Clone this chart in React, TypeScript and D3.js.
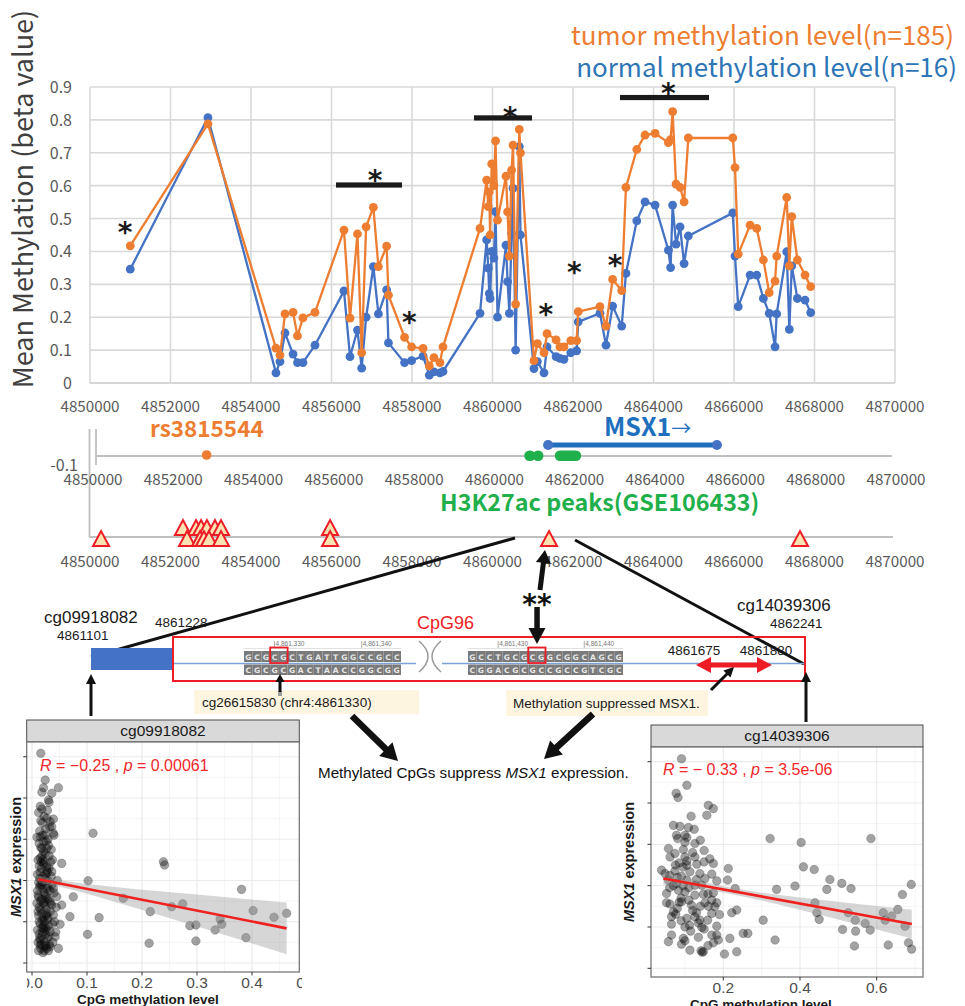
import React, { useEffect } from 'react';
import * as d3 from 'd3';

// ---------------- Top chart data ----------------
const positions = [4851000, 4852930, 4854620, 4854720, 4854845, 4855045, 4855155, 4855290, 4855590, 4856310,
  4856460, 4856645, 4856750, 4856860, 4857040, 4857165, 4857370, 4857415, 4857815, 4857990,
  4858275, 4858430, 4858545, 4858695, 4858770, 4859690, 4859855, 4859895, 4859920, 4859940,
  4859980, 4860035, 4860075, 4860125, 4860335, 4860375, 4860420, 4860475, 4860510, 4860575,
  4860665, 4860695, 4861030, 4861115, 4861280, 4861355, 4861580, 4861675, 4861775, 4861945,
  4862090, 4862130, 4862670, 4862820, 4862985, 4863210, 4863315, 4863585, 4863790, 4864040,
  4864370, 4864425, 4864475, 4864560, 4864660, 4864760, 4864865, 4865970, 4866025, 4866105,
  4866400, 4866565, 4866730, 4866875, 4867020, 4867060, 4867310, 4867375, 4867435, 4867575,
  4867765, 4867905];
const tumor = [0.417, 0.788, 0.106, 0.085, 0.21, 0.215, 0.143, 0.198, 0.215, 0.465,
  0.197, 0.453, 0.092, 0.475, 0.534, 0.354, 0.416, 0.267, 0.139, 0.11,
  0.105, 0.052, 0.077, 0.062, 0.11, 0.47, 0.617, 0.536, 0.581, 0.45,
  0.666, 0.6, 0.736, 0.495, 0.629, 0.52, 0.386, 0.647, 0.723, 0.24,
  0.771, 0.7, 0.068, 0.12, 0.092, 0.15, 0.131, 0.11, 0.11, 0.129,
  0.129, 0.217, 0.232, 0.173, 0.315, 0.281, 0.595, 0.71, 0.754, 0.759,
  0.731, 0.74, 0.825, 0.605, 0.595, 0.551, 0.745, 0.745, 0.655, 0.392,
  0.48, 0.47, 0.374, 0.275, 0.31, 0.386, 0.564, 0.356, 0.506, 0.374,
  0.328, 0.293];
const normal = [0.346, 0.807, 0.031, 0.065, 0.152, 0.088, 0.062, 0.062, 0.115, 0.28,
  0.08, 0.161, 0.045, 0.2, 0.354, 0.21, 0.283, 0.122, 0.062, 0.068,
  0.082, 0.024, 0.034, 0.031, 0.035, 0.212, 0.435, 0.349, 0.272, 0.257,
  0.4, 0.38, 0.521, 0.2, 0.419, 0.308, 0.212, 0.455, 0.592, 0.1,
  0.719, 0.45, 0.044, 0.065, 0.031, 0.11, 0.08, 0.075, 0.072, 0.092,
  0.098, 0.186, 0.212, 0.115, 0.234, 0.173, 0.333, 0.493, 0.551, 0.541,
  0.404, 0.351, 0.541, 0.422, 0.475, 0.363, 0.447, 0.517, 0.386, 0.232,
  0.328, 0.328, 0.257, 0.212, 0.11, 0.21, 0.399, 0.163, 0.356, 0.257,
  0.252, 0.214];
const xTickValues = [4850000, 4852000, 4854000, 4856000, 4858000, 4860000, 4862000, 4864000, 4866000, 4868000, 4870000];
const yTickValues = [0, 0.1, 0.2, 0.3, 0.4, 0.5, 0.6, 0.7, 0.8, 0.9];
const yTickLabels = ['0', '0.1', '0.2', '0.3', '0.4', '0.5', '0.6', '0.7', '0.8', '0.9'];
const sigBars = [
  { start: 4856112, end: 4857752, level: 0.602 },
  { start: 4859540, end: 4860981, level: 0.806 },
  { start: 4863168, end: 4865379, level: 0.868 },
];
const asterisks = [
  { pos: 4850870, level: 0.475 }, { pos: 4857081, level: 0.632 }, { pos: 4860435, level: 0.825 },
  { pos: 4864368, level: 0.896 }, { pos: 4857933, level: 0.2 }, { pos: 4861322, level: 0.224 },
  { pos: 4862033, level: 0.352 }, { pos: 4863044, level: 0.374 },
];

// ---------------- Tracks ----------------
const snpPos = 4852830;
const genePos = [4861335, 4865540];
const h3k27acPeaks = [[4860740, 4861020], [4860950, 4861220], [4861500, 4862160]];
const triUpper = [4852310, 4852635, 4852760, 4852905, 4853105, 4853255, 4855965];
const triLower = [4850275, 4852410, 4852735, 4852830, 4852955, 4853255, 4855965, 4861405, 4867640];

// ---------------- Schematic ----------------
const schemBreaks = [4861101, 4861228, 4861327, 4861345, 4861427, 4861445, 4861675, 4861880, 4862241];
const seq1Top = 'GCGCGCTGATTGGCCGCC';
const seq1Bottom = 'CGCGCGACTAACCGGCGG';
const seq1Start = 4861327;
const seq2Top = 'GCCTGCGCGGCGGCAGCG';
const seq2Bottom = 'CGGACGCGCCGCCGTCGC';
const seq2Start = 4861427;
const markedCpG = [4861330, 4861434];
const rulerMarks = [4861330, 4861340, 4861430, 4861440];
const suppressRegion = [4861675, 4861880];

// ---------------- Scatter data ----------------
const leftPoints = [
  [0.016, 12.17], [0.024, 10.87], [0.021, 10.5], [0.048, 10.5], [0.018, 10.28], [0.036, 10.23], [0.03, 9.9], [0.031, 9.79],
  [0.018, 9.47], [0.027, 9.02], [0.033, 8.85], [0.039, 8.98], [0.036, 8.61], [0.111, 8.29], [0.039, 8.29], [0.024, 8.21],
  [0.015, 8.12], [0.021, 7.88], [0.018, 7.56], [0.027, 7.56], [0.015, 7.08], [0.054, 6.83], [0.239, 6.91], [0.241, 6.75],
  [0.027, 6.67], [0.036, 6.43], [0.102, 5.99], [0.381, 5.57], [0.015, 5.78], [0.039, 5.62], [0.075, 5.21], [0.045, 5.21],
  [0.166, 5.14], [0.036, 4.81], [0.054, 4.81], [0.254, 4.73], [0.274, 4.87], [0.215, 4.49], [0.039, 4.33], [0.069, 4.25],
  [0.122, 4.2], [0.402, 4.54], [0.44, 4.22], [0.463, 4.41], [0.051, 3.88], [0.287, 3.81], [0.298, 3.84], [0.342, 4.13],
  [0.345, 3.88], [0.333, 3.6], [0.101, 3.39], [0.021, 3.68], [0.033, 3.52], [0.042, 3.27], [0.389, 3.23], [0.213, 2.96],
  [0.298, 3.07], [0.048, 2.71], [0.024, 2.87], [0.033, 2.79], [0.015, 2.87],
  [0.012, 9.3], [0.019, 8.8], [0.025, 8.5], [0.029, 8.0], [0.013, 7.8], [0.021, 7.4], [0.031, 7.2], [0.011, 7.0],
  [0.022, 6.9], [0.017, 6.6], [0.028, 6.4], [0.010, 6.3], [0.024, 6.1], [0.019, 5.9], [0.014, 5.7], [0.027, 5.6],
  [0.022, 5.4], [0.011, 5.3], [0.017, 5.1], [0.032, 5.0], [0.021, 4.9], [0.013, 4.7], [0.026, 4.6], [0.018, 4.4],
  [0.012, 4.3], [0.029, 4.2], [0.022, 4.0], [0.015, 3.9], [0.025, 3.7], [0.010, 3.6], [0.019, 3.5], [0.031, 3.3],
  [0.014, 3.2], [0.023, 3.0], [0.017, 2.9], [0.027, 2.7], [0.012, 2.6], [0.020, 2.5], [0.034, 6.9], [0.036, 5.8],
  [0.033, 4.5], [0.037, 3.9], [0.009, 8.1], [0.016, 7.6], [0.024, 7.3], [0.029, 6.0], [0.010, 5.5], [0.016, 5.0],
  [0.023, 4.8], [0.028, 4.1], [0.013, 3.4], [0.020, 6.2], [0.026, 5.2], [0.011, 4.5], [0.018, 3.7], [0.024, 2.8],
  [0.035, 7.5], [0.032, 8.6], [0.015, 9.6], [0.022, 9.1], [0.040, 5.4], [0.041, 4.0], [0.038, 3.0], [0.030, 2.6],
  [0.009, 4.9], [0.019, 8.2], [0.027, 6.5], [0.013, 6.7], [0.021, 3.8], [0.016, 2.7], [0.030, 7.7], [0.018, 7.2],
  [0.026, 4.3], [0.014, 6.1], [0.033, 5.5], [0.020, 5.6], [0.028, 3.2], [0.012, 5.9],
  [0.014, 8.4], [0.026, 7.9], [0.020, 7.0], [0.031, 6.6], [0.015, 6.4], [0.025, 6.3], [0.018, 5.8], [0.029, 5.7],
  [0.012, 5.2], [0.024, 5.3], [0.034, 4.9], [0.016, 4.6], [0.027, 4.4], [0.021, 4.2], [0.013, 4.0], [0.030, 3.8],
  [0.018, 3.3], [0.025, 3.4], [0.011, 3.0], [0.032, 2.9], [0.022, 2.6], [0.016, 8.9], [0.028, 9.4], [0.021, 6.8],
  [0.017, 6.9], [0.023, 5.0], [0.019, 4.1], [0.026, 3.6], [0.015, 3.1], [0.029, 5.1], [0.035, 6.2], [0.037, 7.0],
  [0.044, 4.7], [0.046, 6.0], [0.043, 3.5], [0.040, 8.2],
];
const leftReg = [[0.0115, 6.06], [0.463, 3.68]];
const leftBandX = [0.0117, 0.0415, 0.091, 0.19, 0.29, 0.389, 0.463];
const leftBandLo = [5.89, 5.76, 5.43, 4.66, 3.85, 3.04, 2.43];
const leftBandHi = [6.23, 6.05, 5.85, 5.58, 5.35, 5.10, 4.93];

const rightPoints = [
  [0.091, 12.14], [0.105, 10.86], [0.077, 10.47], [0.082, 10.27], [0.161, 9.89], [0.174, 9.73], [0.157, 9.41], [0.116, 9.36],
  [0.07, 8.92], [0.087, 8.87], [0.109, 8.81], [0.124, 8.73], [0.1, 8.44], [0.105, 8.33], [0.078, 8.44], [0.081, 8.28],
  [0.322, 8.28], [0.403, 8.09], [0.585, 8.28], [0.057, 7.8], [0.074, 7.56], [0.061, 7.39], [0.126, 8.04], [0.096, 7.75],
  [0.126, 7.39], [0.105, 6.99], [0.1, 7.39], [0.15, 7.15], [0.131, 7.04], [0.174, 7.07], [0.213, 6.83], [0.437, 6.78],
  [0.409, 6.91], [0.039, 6.75], [0.048, 6.59], [0.074, 6.71], [0.091, 6.46], [0.113, 6.67], [0.139, 6.59], [0.152, 6.35],
  [0.17, 6.56], [0.057, 6.27], [0.078, 6.11], [0.105, 6.27], [0.126, 6.02], [0.144, 6.02], [0.183, 6.23], [0.211, 6.27],
  [0.339, 5.82], [0.387, 5.98], [0.47, 5.82], [0.478, 6.3], [0.509, 6.11], [0.533, 5.86], [0.69, 6.06], [0.052, 5.62],
  [0.083, 5.78], [0.1, 5.7], [0.126, 5.54], [0.148, 5.59], [0.174, 5.65], [0.231, 5.86], [0.052, 5.17], [0.061, 5.11],
  [0.091, 5.22], [0.117, 5.06], [0.152, 5.17], [0.161, 5.01], [0.183, 5.17], [0.439, 5.17], [0.444, 4.69], [0.45, 4.37],
  [0.526, 4.69], [0.544, 4.33], [0.57, 4.17], [0.617, 4.69], [0.622, 4.33], [0.639, 4.53], [0.655, 4.85], [0.667, 5.57],
  [0.07, 4.73], [0.076, 4.62], [0.105, 4.42], [0.126, 4.49], [0.139, 4.33], [0.159, 4.33], [0.17, 4.66], [0.178, 4.98],
  [0.222, 4.69], [0.235, 4.82], [0.304, 4.33], [0.511, 3.88], [0.545, 3.8], [0.583, 3.85], [0.674, 4.04], [0.065, 4.14],
  [0.112, 4.09], [0.144, 3.98], [0.183, 4.04], [0.17, 3.61], [0.183, 3.61], [0.252, 3.69], [0.264, 3.69], [0.065, 3.61],
  [0.096, 3.45], [0.1, 3.33], [0.057, 3.29], [0.174, 3.24], [0.187, 3.37], [0.217, 3.45], [0.335, 3.37], [0.091, 3.17],
  [0.113, 2.88], [0.142, 2.85], [0.148, 2.8], [0.203, 2.69], [0.235, 2.8], [0.542, 3.08], [0.63, 3.13], [0.683, 3.24],
  [0.691, 2.93], [0.085, 7.1], [0.095, 6.9], [0.12, 7.6], [0.09, 5.4], [0.11, 5.3], [0.14, 5.0], [0.08, 4.9],
  [0.1, 4.0], [0.13, 4.7], [0.16, 5.6], [0.07, 6.0], [0.15, 7.7], [0.165, 7.3], [0.1, 8.1], [0.06, 5.9],
  [0.15, 3.9], [0.135, 3.5], [0.16, 3.1], [0.145, 2.78],
  [0.08, 6.4], [0.095, 6.0], [0.11, 5.9], [0.13, 6.3], [0.085, 5.2], [0.12, 4.8], [0.065, 4.5], [0.09, 4.3],
  [0.115, 3.8], [0.135, 4.2], [0.17, 5.3], [0.19, 4.6], [0.06, 6.5], [0.105, 7.2], [0.14, 8.2], [0.075, 7.0],
];
const rightReg = [[0.0435, 6.35], [0.6915, 4.14]];
const rightBandX = [0.0435, 0.1, 0.2, 0.3, 0.4, 0.5, 0.6, 0.6915];
const rightBandLo = [6.05, 5.93, 5.67, 5.28, 4.83, 4.36, 3.88, 3.44];
const rightBandHi = [6.65, 6.39, 5.97, 5.66, 5.43, 5.22, 5.02, 4.84];

const FJP = "'Noto Sans CJK JP', 'Noto Sans', sans-serif";
const FS = "'Liberation Sans', Arial, sans-serif";
const FD = "'DejaVu Sans', sans-serif";
const ORANGE = '#ED7D31';
const BLUE = '#4472C4';
const GRID = '#D9D9D9';
const TXT = '#595959';
const RED = '#EE1C25';

function arrowPath(x1: number, y1: number, x2: number, y2: number, w: number, hl: number, hw: number, both = false) {
  const dx = x2 - x1, dy = y2 - y1, L = Math.hypot(dx, dy);
  const ux = dx / L, uy = dy / L, px = -uy, py = ux;
  const bx = x2 - ux * hl, by = y2 - uy * hl;
  const ax = both ? x1 + ux * hl : x1, ay = both ? y1 + uy * hl : y1;
  const pts: number[][] = [];
  if (both) {
    pts.push([x1, y1], [ax - px * hw / 2, ay - py * hw / 2], [ax - px * w / 2, ay - py * w / 2]);
  } else {
    pts.push([x1 - px * w / 2, y1 - py * w / 2]);
  }
  pts.push([bx - px * w / 2, by - py * w / 2], [bx - px * hw / 2, by - py * hw / 2], [x2, y2],
    [bx + px * hw / 2, by + py * hw / 2], [bx + px * w / 2, by + py * w / 2]);
  if (both) {
    pts.push([ax + px * w / 2, ay + py * w / 2], [ax + px * hw / 2, ay + py * hw / 2]);
  } else {
    pts.push([x1 + px * w / 2, y1 + py * w / 2]);
  }
  return 'M' + pts.map(p => p[0].toFixed(1) + ',' + p[1].toFixed(1)).join('L') + 'Z';
}

type ScatterCfg = {
  id: string; title: string; px0: number; px1: number; py0: number; py1: number; stripTop: number;
  xDomain: number[]; xRange: number[]; yDomain: number[]; yRange: number[];
  xTicks: number[]; xMinor: number[]; yTicks: number[]; yMinor: number[];
  points: number[][]; reg: number[][]; bandX: number[]; bandLo: number[]; bandHi: number[];
  stat: string[]; statX: number; statY: number; clipX0: number; clipX1: number;
  yTitleX: number; xTitleX: number; xTitleY: number; tickY: number;
};

function Scatter({ c }: { c: ScatterCfg }) {
  const x = d3.scaleLinear().domain(c.xDomain).range(c.xRange);
  const y = d3.scaleLinear().domain(c.yDomain).range(c.yRange);
  const area = d3.area<number>().x((d, i) => x(c.bandX[i])).y0((d, i) => y(c.bandLo[i])).y1((d) => y(d));
  const inX = (v: number) => x(v) >= c.px0 && x(v) <= c.px1;
  const inY = (v: number) => y(v) >= c.py0 && y(v) <= c.py1;
  const fmt = (v: number) => v.toFixed(1);
  return (
    <g>
      <defs>
        <clipPath id={c.id + 'lab'}><rect x={c.clipX0} y={c.py1} width={c.clipX1 - c.clipX0} height={40} /></clipPath>
        <clipPath id={c.id + 'pan'}><rect x={c.px0} y={c.py0} width={c.px1 - c.px0} height={c.py1 - c.py0} /></clipPath>
      </defs>
      <rect x={c.px0} y={c.stripTop} width={c.px1 - c.px0} height={c.py0 - c.stripTop} fill="#D9D9D9" stroke="#4d4d4d" strokeWidth={1} />
      <text x={(c.px0 + c.px1) / 2} y={c.py0 - 6} textAnchor="middle" fontFamily={FS} fontSize={15.5} fill="#1a1a1a">{c.title}</text>
      <rect x={c.px0} y={c.py0} width={c.px1 - c.px0} height={c.py1 - c.py0} fill="#fff" />
      <g clipPath={`url(#${c.id}pan)`}>
        {c.xMinor.filter(inX).map(v => <line key={'xm' + v} x1={x(v)} x2={x(v)} y1={c.py0} y2={c.py1} stroke="#F2F2F2" strokeWidth={0.8} />)}
        {c.yMinor.filter(inY).map(v => <line key={'ym' + v} x1={c.px0} x2={c.px1} y1={y(v)} y2={y(v)} stroke="#F2F2F2" strokeWidth={0.8} />)}
        {c.xTicks.filter(inX).map(v => <line key={'xg' + v} x1={x(v)} x2={x(v)} y1={c.py0} y2={c.py1} stroke="#EBEBEB" strokeWidth={1.2} />)}
        {c.yTicks.filter(inY).map(v => <line key={'yg' + v} x1={c.px0} x2={c.px1} y1={y(v)} y2={y(v)} stroke="#EBEBEB" strokeWidth={1.2} />)}
        {c.points.map((p, i) => <circle key={i} cx={x(p[0])} cy={y(p[1])} r={4.3} fill="#000" fillOpacity={0.36} stroke="#222" strokeOpacity={0.4} strokeWidth={0.6} />)}
        <path d={area(c.bandHi) || ''} fill="#999" fillOpacity={0.4} />
        <line x1={x(c.reg[0][0])} y1={y(c.reg[0][1])} x2={x(c.reg[1][0])} y2={y(c.reg[1][1])} stroke="#F0201F" strokeWidth={2.6} />
      </g>
      <rect x={c.px0} y={c.py0} width={c.px1 - c.px0} height={c.py1 - c.py0} fill="none" stroke="#6b6b6b" strokeWidth={1.2} />
      {c.yTicks.filter(inY).map(v => <line key={'yt' + v} x1={c.px0 - 3.5} x2={c.px0} y1={y(v)} y2={y(v)} stroke="#333" strokeWidth={1} />)}
      {c.xTicks.filter(inX).map(v => <line key={'xt' + v} x1={x(v)} x2={x(v)} y1={c.py1} y2={c.py1 + 3.5} stroke="#333" strokeWidth={1} />)}
      <g clipPath={`url(#${c.id}lab)`}>
        {c.xTicks.map(v => <text key={'xl' + v} x={x(v)} y={c.tickY} textAnchor="middle" fontFamily={FS} fontSize={15.5} fill="#4D4D4D">{fmt(v)}</text>)}
      </g>
      <text x={c.statX} y={c.statY} fontFamily={FS} fontSize={16} fill="#F2262B" style={{ whiteSpace: 'pre' }}>
        <tspan fontStyle="italic">R</tspan><tspan>{c.stat[0]}</tspan><tspan fontStyle="italic">p</tspan><tspan>{c.stat[1]}</tspan>
      </text>
      <text x={c.xTitleX} y={c.xTitleY} fontFamily={FS} fontSize={13.5} fontWeight="bold" fill="#1a1a1a">CpG methylation level</text>
      <text transform={`translate(${c.yTitleX},${(c.py0 + c.py1) / 2}) rotate(-90)`} textAnchor="middle" fontFamily={FS} fontSize={14.5} fontWeight="bold" fill="#1a1a1a">
        <tspan fontStyle="italic">MSX1</tspan><tspan> expression</tspan>
      </text>
    </g>
  );
}

export default function App() {
  useEffect(() => { document.body.style.margin = '0'; }, []);
  const xTop = d3.scaleLinear().domain([4850000, 4870000]).range([90, 895]);
  const yTop = d3.scaleLinear().domain([0, 0.9]).range([383, 87]);
  const xMid = d3.scaleLinear().domain([4850000, 4870000]).range([93, 896]);
  const xZ = d3.scaleLinear().domain(schemBreaks).range([91, 173, 244, 401, 468, 623, 696, 772, 805]);
  const lineGen = (vals: number[]) => d3.line<number>().x((d, i) => xTop(positions[i])).y(d => yTop(d))(vals) || '';

  const tri = (px: number, base: number) => `M${px - 8},${base}L${px + 8},${base}L${px},${base - 15}Z`;

  const seqCells = (top: string, bottom: string, start: number) => {
    const out: any[] = [];
    for (let i = 0; i < top.length; i++) {
      const x0 = xZ(start + i), x1 = xZ(start + i + 1), cx = (x0 + x1) / 2;
      out.push(<rect key={'t' + start + i} x={x0} y={651} width={x1 - x0} height={11} fill="#7a7a7a" />);
      out.push(<rect key={'b' + start + i} x={x0} y={664.5} width={x1 - x0} height={10.5} fill="#7a7a7a" />);
      out.push(<text key={'tt' + start + i} x={cx} y={659.6} textAnchor="middle" fontFamily={FD} fontSize={7.5} fontWeight="bold" fill="#e8e8e8">{top[i]}</text>);
      out.push(<text key={'bt' + start + i} x={cx} y={672.8} textAnchor="middle" fontFamily={FD} fontSize={7.5} fontWeight="bold" fill="#e8e8e8">{bottom[i]}</text>);
    }
    return out;
  };

  const leftCfg: ScatterCfg = {
    id: 'sl', title: 'cg09918082', px0: 26.7, px1: 299.3, py0: 742, py1: 972, stripTop: 720,
    xDomain: [0, 0.5], xRange: [32, 307], yDomain: [2, 10], yRange: [963, 798],
    xTicks: [0, 0.1, 0.2, 0.3, 0.4, 0.5], xMinor: [0.05, 0.15, 0.25, 0.35, 0.45],
    yTicks: [2, 4, 6, 8, 10, 12], yMinor: [1, 3, 5, 7, 9, 11],
    points: leftPoints, reg: leftReg, bandX: leftBandX, bandLo: leftBandLo, bandHi: leftBandHi,
    stat: [' = \u22120.25 , ', ' = 0.00061'], statX: 40, statY: 771, clipX0: 27, clipX1: 302,
    yTitleX: 21, xTitleX: 77, xTitleY: 1004, tickY: 988,
  };
  const rightCfg: ScatterCfg = {
    id: 'sr', title: 'cg14039306', px0: 651, px1: 923, py0: 747, py1: 977, stripTop: 725,
    xDomain: [0.2, 0.6], xRange: [723.3, 876.7], yDomain: [2, 12], yRange: [968.3, 761.7],
    xTicks: [0.2, 0.4, 0.6, 0.8], xMinor: [0.1, 0.3, 0.5, 0.7],
    yTicks: [2, 4, 6, 8, 10, 12], yMinor: [3, 5, 7, 9, 11],
    points: rightPoints, reg: rightReg, bandX: rightBandX, bandLo: rightBandLo, bandHi: rightBandHi,
    stat: [' = \u2212 0.33 , ', ' = 3.5e-06'], statX: 663, statY: 775, clipX0: 640, clipX1: 927,
    yTitleX: 634, xTitleX: 690, xTitleY: 1009, tickY: 993,
  };

  return (
    <svg width={965} height={1006} style={{ position: 'absolute', left: 0, top: 0, background: '#fff' }}>
      <rect x={0} y={0} width={965} height={1006} fill="#fff" />
      {/* ---------- Top chart ---------- */}
      {yTickValues.map(v => <line key={'hg' + v} x1={xTop(4850000)} x2={xTop(4870000)} y1={yTop(v)} y2={yTop(v)} stroke={v === 0 ? '#C8C8C8' : GRID} strokeWidth={1.6} />)}
      {xTickValues.map(v => <line key={'vg' + v} x1={xTop(v)} x2={xTop(v)} y1={yTop(0.9)} y2={yTop(0)} stroke={GRID} strokeWidth={1.6} />)}
      {yTickValues.map((v, i) => <text key={'yl' + v} x={72} y={yTop(v) + 6} textAnchor="end" fontFamily={FJP} fontSize={16} fill={TXT}>{yTickLabels[i]}</text>)}
      {xTickValues.map(v => <text key={'xl' + v} x={xTop(v)} y={412} textAnchor="middle" fontFamily={FJP} fontSize={15.2} fill={TXT}>{v}</text>)}
      <text transform="translate(33,199) rotate(-90)" textAnchor="middle" fontFamily={FJP} fontSize={27} fill="#404040">Mean Methylation (beta value)</text>
      <path d={lineGen(normal)} fill="none" stroke={BLUE} strokeWidth={2.3} />
      {normal.map((v, i) => <circle key={'n' + i} cx={xTop(positions[i])} cy={yTop(v)} r={4.4} fill={BLUE} />)}
      <path d={lineGen(tumor)} fill="none" stroke={ORANGE} strokeWidth={2.3} />
      {tumor.map((v, i) => <circle key={'t' + i} cx={xTop(positions[i])} cy={yTop(v)} r={4.4} fill={ORANGE} />)}
      {sigBars.map((b, i) => <rect key={'sb' + i} x={xTop(b.start)} y={yTop(b.level) - 2.6} width={xTop(b.end) - xTop(b.start)} height={5.2} fill="#1a1a1a" />)}
      {asterisks.map((a, i) => <text key={'as' + i} x={xTop(a.pos)} y={yTop(a.level) + 15} textAnchor="middle" fontFamily={FD} fontWeight="bold" fontSize={28} fill="#1a1a1a">*</text>)}
      <text x={954} y={45} textAnchor="end" fontFamily={FJP} fontSize={26} fill={ORANGE}>tumor methylation level(n=185)</text>
      <text x={957} y={76.5} textAnchor="end" fontFamily={FJP} fontSize={26} fill="#2E75B6">normal methylation level(n=16)</text>

      {/* ---------- Track: SNP / gene / H3K27ac ---------- */}
      <line x1={89.5} x2={89.5} y1={429} y2={537} stroke="#BFBFBF" strokeWidth={1.8} />
      <line x1={96} x2={96} y1={429} y2={465} stroke="#BFBFBF" strokeWidth={1.8} />
      <line x1={96} x2={892} y1={456} y2={456} stroke="#BFBFBF" strokeWidth={1.8} />
      <text x={78} y={471} textAnchor="end" fontFamily={FJP} fontSize={16} fill={TXT}>-0.1</text>
      {xTickValues.map(v => <text key={'xm' + v} x={xMid(v)} y={485} textAnchor="middle" fontFamily={FJP} fontSize={15.2} fill={TXT}>{v}</text>)}
      <text x={150} y={437} fontFamily={FJP} fontWeight="bold" fontSize={22.5} fill={ORANGE}>rs3815544</text>
      <circle cx={xMid(snpPos)} cy={455} r={4.8} fill={ORANGE} />
      {h3k27acPeaks.map((p, i) => <rect key={'pk' + i} x={xMid(p[0])} y={450.5} width={xMid(p[1]) - xMid(p[0])} height={10.5} rx={5.2} fill="#1FAF4B" />)}
      <line x1={xMid(genePos[0])} x2={xMid(genePos[1])} y1={445} y2={445} stroke="#1E6FBE" strokeWidth={5} />
      {genePos.map((g, i) => <circle key={'g' + i} cx={xMid(g)} cy={445} r={5} fill={BLUE} />)}
      <text x={604} y={436} fontFamily={FJP} fontWeight="bold" fontSize={25} fill="#1E6FBE">MSX1<tspan fontWeight="normal" fontSize={20}>→</tspan></text>
      <text x={440} y={511} fontFamily={FJP} fontWeight="bold" fontSize={23.3} fill="#1FAF4B">H3K27ac peaks(GSE106433)</text>

      {/* ---------- Track: triangles ---------- */}
      <line x1={89} x2={893} y1={537} y2={537} stroke="#BFBFBF" strokeWidth={1.8} />
      {triUpper.map((p, i) => <path key={'tu' + i} d={tri(xTop(p), 535)} fill="#FBE2B2" stroke={RED} strokeWidth={2} strokeLinejoin="miter" />)}
      {triLower.map((p, i) => <path key={'tl' + i} d={tri(xTop(p), 546)} fill="#FBE2B2" stroke={RED} strokeWidth={2} strokeLinejoin="miter" />)}
      {xTickValues.map(v => <text key={'xb' + v} x={xTop(v)} y={567} textAnchor="middle" fontFamily={FJP} fontSize={15.2} fill={TXT}>{v}</text>)}

      {/* ---------- Schematic ---------- */}
      <line x1={515} y1={538} x2={xZ(schemBreaks[0])} y2={657} stroke="#111" strokeWidth={3} />
      <line x1={575} y1={540} x2={xZ(schemBreaks[8]) - 1} y2={664} stroke="#111" strokeWidth={3} />
      <rect x={xZ(schemBreaks[0])} y={648} width={xZ(schemBreaks[1]) - xZ(schemBreaks[0])} height={22} fill={BLUE} />
      <line x1={xZ(schemBreaks[1])} x2={xZ(schemBreaks[8])} y1={663.5} y2={663.5} stroke="#7BA3D6" strokeWidth={1.5} />
      <rect x={xZ(schemBreaks[1])} y={637} width={xZ(schemBreaks[8]) - xZ(schemBreaks[1])} height={44} fill="none" stroke={RED} strokeWidth={2} />
      {seqCells(seq1Top, seq1Bottom, seq1Start)}
      {seqCells(seq2Top, seq2Bottom, seq2Start)}
      {rulerMarks.map(m => (
        <g key={'rm' + m}>
          <line x1={xZ(m + 0.5)} x2={xZ(m + 0.5)} y1={641} y2={648} stroke="#888" strokeWidth={0.7} />
          <text x={xZ(m + 0.5) + 1} y={646} fontFamily={FS} fontSize={6.5} fill="#777">{d3.format(',')(m)}</text>
        </g>
      ))}
      <line x1={xZ(seq1Start)} x2={xZ(seq1Start + seq1Top.length)} y1={648.5} y2={648.5} stroke="#ccc" strokeWidth={0.6} />
      <line x1={xZ(seq2Start)} x2={xZ(seq2Start + seq2Top.length)} y1={648.5} y2={648.5} stroke="#ccc" strokeWidth={0.6} />
      {markedCpG.map(m => <rect key={'mc' + m} x={xZ(m)} y={647.5} width={xZ(m + 2) - xZ(m)} height={15.5} fill="none" stroke={RED} strokeWidth={1.8} />)}
      <rect x={416} y={640} width={26} height={34} fill="#fff" />
      <path d="M419,641 Q437,656.5 419,672 M441,641 Q423,656.5 441,672" fill="none" stroke="#9a9a9a" strokeWidth={1.5} />
      <path d={arrowPath(xZ(suppressRegion[0]), 665, xZ(suppressRegion[1]), 665, 5, 15, 16, true)} fill={RED} />

      <text x={44} y={623} fontFamily={FS} fontSize={17} fill="#1a1a1a">cg09918082</text>
      <text x={57} y={640} fontFamily={FS} fontSize={13.5} fill="#1a1a1a">4861101</text>
      <text x={155} y={627} fontFamily={FS} fontSize={13.5} fill="#1a1a1a">4861228</text>
      <text x={417} y={629} fontFamily={FS} fontSize={18} fill={RED}>CpG96</text>
      <text x={737} y={611} fontFamily={FS} fontSize={17} fill="#1a1a1a">cg14039306</text>
      <text x={770} y={628} fontFamily={FS} fontSize={13.5} fill="#1a1a1a">4862241</text>
      <text x={xZ(suppressRegion[0]) - 2} y={655} textAnchor="middle" fontFamily={FS} fontSize={13.5} fill="#1a1a1a">4861675</text>
      <text x={xZ(suppressRegion[1]) - 6} y={655} textAnchor="middle" fontFamily={FS} fontSize={13.5} fill="#1a1a1a">4861880</text>

      <path d={arrowPath(540, 590, 545, 550, 5, 13, 15)} fill="#111" />
      <text x={537} y={614} textAnchor="middle" fontFamily={FD} fontWeight="bold" fontSize={28} fill="#111">**</text>
      <path d={arrowPath(537, 607, 537, 644, 5.5, 16, 17)} fill="#111" />

      <rect x={194} y={690} width={225} height={24} fill="#FDF5DF" />
      <text x={202} y={707} fontFamily={FS} fontSize={13.5} fill="#1a1a1a">cg26615830 (chr4:4861330)</text>
      <rect x={278} y={691} width={4} height={5} fill="#999" />
      <path d={arrowPath(280, 692, 280, 674, 3, 8, 9)} fill="#111" />
      <rect x={506} y={690} width={202} height={26} fill="#FDF5DF" />
      <text x={513} y={708} fontFamily={FS} fontSize={13.5} fill="#1a1a1a">Methylation suppressed MSX1.</text>
      <path d={arrowPath(711, 690, 734, 667, 3, 10, 10)} fill="#111" />

      <path d={arrowPath(91, 716, 91, 674, 3, 10, 10)} fill="#111" />
      <path d={arrowPath(806, 722, 806, 672, 3, 10, 10)} fill="#111" />
      <path d={arrowPath(352, 716, 398, 761, 6.5, 17, 19)} fill="#111" />
      <path d={arrowPath(593, 714, 544, 759, 6.5, 17, 19)} fill="#111" />
      <text x={318} y={778} fontFamily={FS} fontSize={15.2} fill="#111" style={{ whiteSpace: 'pre' }}>Methylated CpGs suppress <tspan fontStyle="italic">MSX1</tspan> expression.</text>

      {/* ---------- Scatter plots ---------- */}
      <Scatter c={leftCfg} />
      <Scatter c={rightCfg} />
    </svg>
  );
}
